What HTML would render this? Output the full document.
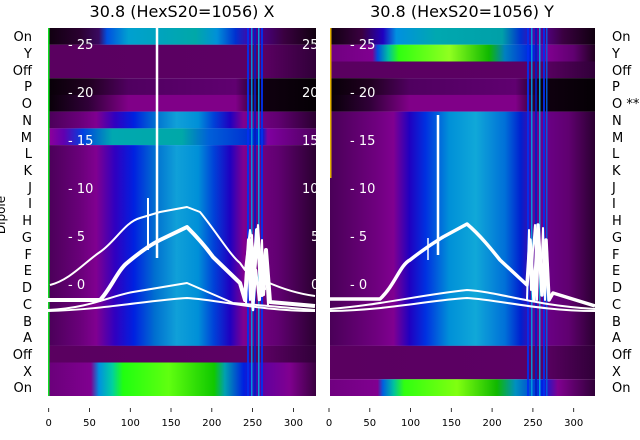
<!DOCTYPE html>
<html><head><meta charset="utf-8"><style>
html,body{margin:0;padding:0;background:#fff;}
svg{display:block;font-family:"DejaVu Sans","Liberation Sans",sans-serif;}
</style></head><body>
<svg width="640" height="440" viewBox="0 0 640 440" xmlns="http://www.w3.org/2000/svg">
<defs>
<linearGradient id="lOn" x1="0" x2="1" y1="0" y2="0">
<stop offset="0" stop-color="#100010"/><stop offset="0.12" stop-color="#2a0030"/><stop offset="0.19" stop-color="#3a0a60"/><stop offset="0.22" stop-color="#0050e0"/><stop offset="0.3" stop-color="#00a0d0"/><stop offset="0.55" stop-color="#00a8a8"/><stop offset="0.63" stop-color="#0090d8"/><stop offset="0.7" stop-color="#0030d0"/><stop offset="0.76" stop-color="#5000a0"/><stop offset="0.88" stop-color="#3a0040"/><stop offset="1" stop-color="#100010"/></linearGradient>
<linearGradient id="purp" x1="0" x2="1"><stop offset="0" stop-color="#5a0060"/><stop offset="0.8" stop-color="#5c0064"/><stop offset="1" stop-color="#300038"/></linearGradient>
<linearGradient id="blkP" x1="0" x2="1"><stop offset="0" stop-color="#080008"/><stop offset="0.15" stop-color="#200020"/><stop offset="0.3" stop-color="#500060"/><stop offset="0.7" stop-color="#600070"/><stop offset="0.8" stop-color="#100010"/><stop offset="1" stop-color="#050005"/></linearGradient>
<linearGradient id="blkO" x1="0" x2="1"><stop offset="0" stop-color="#080008"/><stop offset="0.15" stop-color="#300038"/><stop offset="0.3" stop-color="#800088"/><stop offset="0.7" stop-color="#800088"/><stop offset="0.8" stop-color="#100010"/><stop offset="1" stop-color="#050005"/></linearGradient>
<linearGradient id="lBody" x1="0" x2="1"><stop offset="0" stop-color="#4a0058"/><stop offset="0.12" stop-color="#6a007a"/><stop offset="0.18" stop-color="#800090"/><stop offset="0.25" stop-color="#3000c0"/><stop offset="0.32" stop-color="#0020e0"/><stop offset="0.4" stop-color="#0070d0"/><stop offset="0.48" stop-color="#10a0d8"/><stop offset="0.56" stop-color="#0090d8"/><stop offset="0.62" stop-color="#0040d8"/><stop offset="0.68" stop-color="#2000c0"/><stop offset="0.73" stop-color="#800090"/><stop offset="0.86" stop-color="#600070"/><stop offset="1" stop-color="#2a0030"/></linearGradient>
<linearGradient id="lM" x1="0" x2="1"><stop offset="0" stop-color="#900098"/><stop offset="0.06" stop-color="#6000b0"/><stop offset="0.13" stop-color="#0040e0"/><stop offset="0.24" stop-color="#00a8b0"/><stop offset="0.5" stop-color="#00a8a8"/><stop offset="0.6" stop-color="#0060d8"/><stop offset="0.8" stop-color="#0020d0"/><stop offset="0.82" stop-color="#8000a0"/><stop offset="1" stop-color="#500060"/></linearGradient>
<linearGradient id="lGreen" x1="0" x2="1"><stop offset="0" stop-color="#6a007a"/><stop offset="0.16" stop-color="#800090"/><stop offset="0.19" stop-color="#0090e0"/><stop offset="0.24" stop-color="#00d0a0"/><stop offset="0.28" stop-color="#20ff10"/><stop offset="0.45" stop-color="#60ff10"/><stop offset="0.62" stop-color="#10c800"/><stop offset="0.66" stop-color="#00a0b0"/><stop offset="0.73" stop-color="#0020e0"/><stop offset="0.8" stop-color="#6000a0"/><stop offset="0.9" stop-color="#800090"/><stop offset="1" stop-color="#3a0040"/></linearGradient>
<linearGradient id="rOn" x1="0" x2="1"><stop offset="0" stop-color="#100010"/><stop offset="0.12" stop-color="#3a0040"/><stop offset="0.2" stop-color="#2000c0"/><stop offset="0.25" stop-color="#0090e0"/><stop offset="0.4" stop-color="#00a8b0"/><stop offset="0.65" stop-color="#00a0a8"/><stop offset="0.72" stop-color="#0030d0"/><stop offset="0.78" stop-color="#6000a0"/><stop offset="0.88" stop-color="#3a0040"/><stop offset="1" stop-color="#100010"/></linearGradient>
<linearGradient id="rY" x1="0" x2="1"><stop offset="0" stop-color="#700080"/><stop offset="0.16" stop-color="#800090"/><stop offset="0.18" stop-color="#0050e0"/><stop offset="0.22" stop-color="#00c0a0"/><stop offset="0.26" stop-color="#30ff10"/><stop offset="0.45" stop-color="#90ff20"/><stop offset="0.6" stop-color="#10b800"/><stop offset="0.66" stop-color="#0080c0"/><stop offset="0.76" stop-color="#0020e0"/><stop offset="0.82" stop-color="#800090"/><stop offset="0.92" stop-color="#600070"/><stop offset="1" stop-color="#200020"/></linearGradient>
<linearGradient id="rBody" x1="0" x2="1"><stop offset="0" stop-color="#4a0058"/><stop offset="0.18" stop-color="#700080"/><stop offset="0.24" stop-color="#800090"/><stop offset="0.3" stop-color="#2000c0"/><stop offset="0.36" stop-color="#0030e0"/><stop offset="0.45" stop-color="#0090d8"/><stop offset="0.55" stop-color="#10a8d8"/><stop offset="0.66" stop-color="#0070d8"/><stop offset="0.72" stop-color="#0020d0"/><stop offset="0.78" stop-color="#700090"/><stop offset="0.9" stop-color="#600070"/><stop offset="1" stop-color="#2a0030"/></linearGradient>
<linearGradient id="rGreen" x1="0" x2="1"><stop offset="0" stop-color="#700080"/><stop offset="0.18" stop-color="#800090"/><stop offset="0.2" stop-color="#0060e0"/><stop offset="0.24" stop-color="#00c0a0"/><stop offset="0.28" stop-color="#30ff10"/><stop offset="0.48" stop-color="#80ff10"/><stop offset="0.63" stop-color="#10b800"/><stop offset="0.7" stop-color="#0090c0"/><stop offset="0.8" stop-color="#0020e0"/><stop offset="0.86" stop-color="#800090"/><stop offset="1" stop-color="#300038"/></linearGradient>
<clipPath id="cl"><rect x="48" y="28" width="268" height="368"/></clipPath>
<clipPath id="cr"><rect x="330" y="28" width="265" height="368"/></clipPath>
</defs>

<text x="182" y="17" font-size="16" text-anchor="middle">30.8 (HexS20=1056) X</text>
<text x="462" y="17" font-size="16" text-anchor="middle">30.8 (HexS20=1056) Y</text>

<!-- LEFT PANEL -->
<g clip-path="url(#cl)">
<rect x="48" y="28" width="268" height="16.8" fill="url(#lOn)"/>
<rect x="48" y="44.7" width="268" height="33.5" fill="url(#purp)"/>
<rect x="48" y="78.2" width="268" height="16.8" fill="url(#blkP)"/>
<rect x="48" y="94.9" width="268" height="16.8" fill="url(#blkO)"/>
<rect x="48" y="111.6" width="268" height="16.8" fill="url(#lBody)"/>
<rect x="48" y="128.4" width="268" height="16.8" fill="url(#lM)"/>
<rect x="48" y="145.1" width="268" height="200.8" fill="url(#lBody)"/>
<rect x="48" y="313" width="268" height="33" fill="url(#lBody)" opacity="0.35"/>
<rect x="48" y="345.8" width="268" height="16.8" fill="url(#purp)"/>
<rect x="48" y="362.5" width="268" height="33.5" fill="url(#lGreen)"/>
<rect x="48" y="28" width="1.5" height="368" fill="#10e020"/>
<g opacity="0.9">
<rect x="247" y="28" width="2" height="368" fill="#0030f0"/>
<rect x="251" y="28" width="1.5" height="368" fill="#00a0e0"/>
<rect x="254" y="28" width="2" height="368" fill="#0020c0"/>
<rect x="258" y="28" width="1.5" height="368" fill="#00b0e0"/>
<rect x="261" y="28" width="2" height="368" fill="#0030f0"/>
</g>
<g fill="none" stroke="#fff" stroke-linejoin="round">
<path stroke-width="2" d="M50,285 C70,280 85,262 100,252 S125,222 140,218 L160,212 L187,207 L200,212 C215,230 230,255 240,263 L245,270 L250,230 L255,260 L258,225 L262,280 L267,282 C285,290 300,294 315,296"/>
<path stroke-width="4" d="M48,300 L100,300 C110,290 118,270 127,263 C140,252 150,245 160,240 L187,227 C200,240 208,250 213,257 L240,283 L245,300 L249,240 L253,290 L257,230 L262,295 L266,250 L270,302 L315,306"/>
<path stroke-width="2" d="M48,310 C90,308 110,296 133,292 L187,283 L233,303 L315,310"/>
<path stroke-width="2" d="M48,311 C100,310 150,300 187,298 C220,300 260,311 315,311"/>
<path stroke-width="2" d="M246,305 L248,250 L250,300 L252,235 L254,290 L256,260 L258,228 L260,300 L262,240 L264,295 L266,270 L268,305"/>
<path stroke-width="2.5" d="M247,280 L250,265 L253,310 L256,270 L259,300 L262,268 L265,290"/>
<path stroke-width="2.5" d="M157,28 L157,258"/>
<path stroke-width="2" d="M148,198 L148,250"/>
</g>
<g fill="#fff" font-size="13">
<text x="68" y="49">- 25</text><text x="68" y="97">- 20</text><text x="68" y="145">- 15</text><text x="68" y="193">- 10</text><text x="68" y="241">- 5</text><text x="68" y="289">- 0</text>
<text x="302" y="49">25</text><text x="302" y="97">20</text><text x="302" y="145">15</text><text x="302" y="193">10</text><text x="311" y="241">5</text><text x="311" y="289">0</text>
</g>
</g>

<!-- RIGHT PANEL -->
<g clip-path="url(#cr)">
<rect x="330" y="28" width="265" height="16.8" fill="url(#rOn)"/>
<rect x="330" y="44.7" width="265" height="16.8" fill="url(#rY)"/>
<rect x="330" y="61.5" width="265" height="16.8" fill="url(#purp)"/>
<rect x="330" y="78.2" width="265" height="16.8" fill="url(#blkP)"/>
<rect x="330" y="94.9" width="265" height="16.8" fill="url(#blkO)"/>
<rect x="330" y="111.6" width="265" height="234.3" fill="url(#rBody)"/>
<rect x="330" y="345.8" width="265" height="33.5" fill="url(#purp)"/>
<rect x="330" y="379.3" width="265" height="16.7" fill="url(#rGreen)"/>
<rect x="330" y="28" width="1.5" height="150" fill="#e0b000"/>
<g opacity="0.9">
<rect x="527" y="28" width="2" height="368" fill="#0030f0"/>
<rect x="531" y="28" width="1.5" height="368" fill="#00a0e0"/>
<rect x="535" y="28" width="2" height="368" fill="#0020c0"/>
<rect x="539" y="28" width="1.5" height="368" fill="#00b0e0"/>
<rect x="543" y="28" width="2" height="368" fill="#0030f0"/>
<rect x="546" y="28" width="1.5" height="368" fill="#0060e0"/>
</g>
<g fill="none" stroke="#fff" stroke-linejoin="round">
<path stroke-width="3.5" d="M330,299 L380,299 C395,285 400,265 410,260 C425,248 435,242 443,237 L467,224 C480,235 492,250 500,260 L527,285 L530,240 L534,300 L538,225 L542,295 L546,240 L549,300 L553,293 L595,306"/>
<path stroke-width="2" d="M527,300 L529,230 L531,290 L533,250 L535,225 L537,300 L539,240 L541,280 L543,228 L545,300 L547,250 L549,295"/>
<path stroke-width="2" d="M330,309 C380,305 420,295 467,290 C500,292 530,305 595,309"/>
<path stroke-width="2" d="M330,311 C390,310 430,300 467,298 C500,300 540,311 595,311"/>
<path stroke-width="2.5" d="M438,115 L438,255"/>
<path stroke-width="1.5" d="M428,238 L428,260"/>
</g>
<g fill="#fff" font-size="13">
<text x="350" y="49">- 25</text><text x="350" y="97">- 20</text><text x="350" y="145">- 15</text><text x="350" y="193">- 10</text><text x="350" y="241">- 5</text><text x="350" y="289">- 0</text>
</g>
</g>

<!-- Row labels -->
<g font-size="13" fill="#000">
<g text-anchor="end">
<text x="32" y="41">On</text><text x="32" y="58">Y</text><text x="32" y="75">Off</text><text x="32" y="91">P</text><text x="32" y="108">O</text><text x="32" y="125">N</text><text x="32" y="142">M</text><text x="32" y="158">L</text><text x="32" y="175">K</text><text x="32" y="192">J</text><text x="32" y="208">I</text><text x="32" y="225">H</text><text x="32" y="242">G</text><text x="32" y="259">F</text><text x="32" y="275">E</text><text x="32" y="292">D</text><text x="32" y="309">C</text><text x="32" y="326">B</text><text x="32" y="342">A</text><text x="32" y="359">Off</text><text x="32" y="376">X</text><text x="32" y="392">On</text>
</g>
<g>
<text x="612" y="41">On</text><text x="612" y="58">Y</text><text x="612" y="75">Off</text><text x="612" y="91">P</text><text x="612" y="108">O **</text><text x="612" y="125">N</text><text x="612" y="142">M</text><text x="612" y="158">L</text><text x="612" y="175">K</text><text x="612" y="192">J</text><text x="612" y="208">I</text><text x="612" y="225">H</text><text x="612" y="242">G</text><text x="612" y="259">F</text><text x="612" y="275">E</text><text x="612" y="292">D</text><text x="612" y="309">C</text><text x="612" y="326">B</text><text x="612" y="342">A</text><text x="612" y="359">Off</text><text x="612" y="376">X</text><text x="612" y="392">On</text>
</g>
<text transform="translate(5,215) rotate(-90)" text-anchor="middle" font-size="12">Dipole</text>
</g>

<!-- X ticks -->
<g stroke="#000" stroke-width="0.8">
<path d="M48.7,408v4M89.5,408v4M130.3,408v4M171,408v4M211.8,408v4M252.6,408v4M293.4,408v4"/>
<path d="M329,408v4M369.8,408v4M410.6,408v4M451.3,408v4M492.1,408v4M532.9,408v4M573.7,408v4"/>
</g>
<g font-size="10" fill="#000" text-anchor="middle">
<text x="48.7" y="426">0</text><text x="89.5" y="426">50</text><text x="130.3" y="426">100</text><text x="171" y="426">150</text><text x="211.8" y="426">200</text><text x="252.6" y="426">250</text><text x="293.4" y="426">300</text>
<text x="329" y="426">0</text><text x="369.8" y="426">50</text><text x="410.6" y="426">100</text><text x="451.3" y="426">150</text><text x="492.1" y="426">200</text><text x="532.9" y="426">250</text><text x="573.7" y="426">300</text>
</g>
</svg>
</body></html>
